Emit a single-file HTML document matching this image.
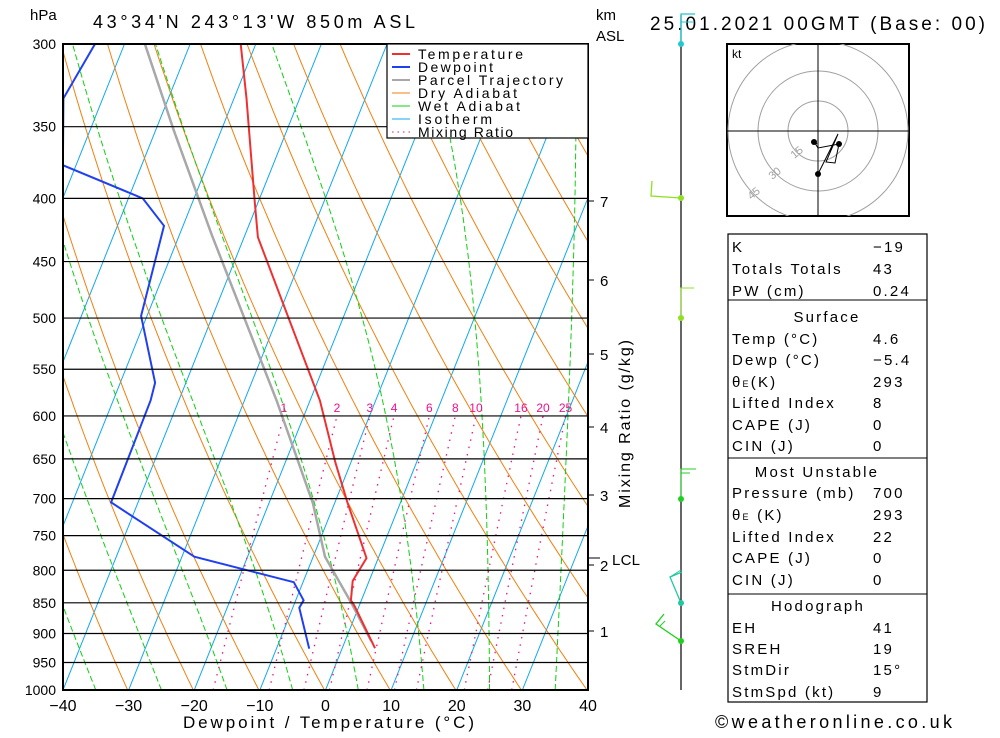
<!DOCTYPE html>
<html><head><meta charset="utf-8"><style>
body{margin:0;background:#fff;width:1000px;height:733px;overflow:hidden;font-family:"Liberation Sans","DejaVu Sans",sans-serif}
svg text{font-family:"Liberation Sans","DejaVu Sans",sans-serif}
</style></head><body>
<svg id="c" width="1000" height="733" xmlns="http://www.w3.org/2000/svg">
<defs><clipPath id="pc"><rect x="63" y="44" width="525" height="646"/></clipPath></defs>
<g id="bg" clip-path="url(#pc)"></g>
<g id="prof" clip-path="url(#pc)"></g>
<g id="ax"></g>
</svg>
<script>
const pLevels=[300,350,400,450,500,550,600,650,700,750,800,850,900,950,1000];
const tTicks=[-40,-30,-20,-10,0,10,20,30,40];
const mixRatios=[1,2,3,4,6,8,10,16,20,25];
const kmTicks=[1,2,3,4,5,6,7];
const kmY=[631,565,495,427,354,280,201];
const tempP=[300,332,352,404,430,583,654,705,782,816,846,855,925];
const tempT=[-52.3,-48.1,-45.8,-40.4,-37.9,-18.5,-12.4,-8.1,-1.8,-2.5,-1.6,-0.7,5.0];
const dewP=[300,332,376,400,421,498,564,583,705,780,818,846,858,926];
const dewT=[-74.5,-76,-72,-57.8,-52.9,-50.9,-44.7,-44.3,-44.1,-28.1,-11.4,-8.8,-9,-5.0];
const parP=[300,352,428,583,706,780,852,913];
const parT=[-66.9,-57.3,-45.1,-25.1,-13.3,-8.2,-1.2,4.0];

const X0=63,X1=588,Y0=44,Y1=690,SK=0.4,PX=(X1-X0)/80;
const L=Math.log(1000/300);
function yP(p){return Y0+Math.log(p/300)/L*(Y1-Y0);}
function xT(t,p){return X0+(t+40)*PX+SK*(Y1-yP(p));}
const NS="http://www.w3.org/2000/svg";
function mk(tag,at,parent){const e=document.createElementNS(NS,tag);for(const k in at)e.setAttribute(k,at[k]);parent.appendChild(e);return e;}
const bg=document.getElementById('bg'),prof=document.getElementById('prof'),ax=document.getElementById('ax');
function pts(arr){return arr.map(a=>a[0].toFixed(1)+','+a[1].toFixed(1)).join(' ');}

for(let t=-120;t<=40;t+=10){
 const e=mk('line',{x1:xT(t,1000),y1:Y1,x2:xT(t,300),y2:Y0,stroke:'#10a8f0','stroke-width':1},bg);
 
 
}
for(let th=203;th<=483;th+=10){
 const a=[];for(let p=1000;p>=300;p-=10){a.push([xT(th*Math.pow(p/1000,0.286)-273.15,p),yP(p)]);}
 const e=mk('polyline',{points:pts(a),fill:'none',stroke:'#f08010','stroke-width':1},bg);
 
 
}
function es(t){return 6.112*Math.exp(17.67*t/(t+243.5));}
for(let t0=-45;t0<=40;t0+=10){
 let T=t0+273.15;const a=[];
 for(let p=1000;p>=300;p-=5){
  a.push([xT(T-273.15,p),yP(p)]);
  const rs=0.622*es(T-273.15)/(p-es(T-273.15));
  const g=(287*T+2.5e6*rs)/(1004+2.5e6*2.5e6*rs*0.622/(287*T*T))/p;
  T-=g*5;
 }
 const e=mk('polyline',{points:pts(a),fill:'none',stroke:'#10d010','stroke-width':1,'stroke-dasharray':'6,3'},bg);
 
 
}
function tdw(w,p){const e=w*p/(622+w);const l=Math.log(e/6.112);return 243.5*l/(17.67-l);}
mixRatios.forEach(w=>{
 const a=[];for(let p=1000;p>=600;p-=10)a.push([xT(tdw(w,p),p),yP(p)]);
 const e=mk('polyline',{points:pts(a),fill:'none',stroke:'#f0108c','stroke-width':1.3,'stroke-dasharray':'1.5,6'},bg);
 
 
 const tx=mk('text',{x:xT(tdw(w,600),600),y:yP(600)-4,'font-size':12,fill:'#f0108c','text-anchor':'middle'},ax);
 tx.textContent=w;
 
 
});
pLevels.forEach(p=>{
 const e=mk('line',{x1:X0,x2:X1,y1:yP(p),y2:yP(p),stroke:'#000','stroke-width':1.2},ax);
 
 
 const t=mk('text',{x:56,y:yP(p)+5,'font-size':14,'text-anchor':'end',fill:'#000'},ax);
 t.textContent=p;
 
 
});
tTicks.forEach(t=>{
 const x=X0+(t+40)*PX;
 const e=mk('text',{x:x,y:711,'font-size':16,'text-anchor':'middle',fill:'#000'},ax);
 e.textContent=t<0?'\u2212'+(-t):t;
 
 
});
kmTicks.forEach((k,i)=>{
 mk('line',{x1:X1,x2:X1+6,y1:kmY[i],y2:kmY[i],stroke:'#000'},ax);
 const e=mk('text',{x:600,y:kmY[i]+6,'font-size':15,fill:'#000'},ax);
 e.textContent=k;
 
 
});
function prLine(P,T,col,w,name){
 const a=P.map((p,i)=>[xT(T[i],p),yP(p)]);
 const e=mk('polyline',{points:pts(a),fill:'none',stroke:col,'stroke-width':w},prof);
 
 
}
prLine(parP,parT,'#a8a8a8',2.5,'parcel-trajectory-line');
prLine(tempP,tempT,'#f03030',2,'temperature-line');
prLine(dewP,dewT,'#2040f0',2,'dewpoint-line');
const fr=mk('rect',{x:X0,y:Y0,width:X1-X0,height:Y1-Y0,fill:'none',stroke:'#000','stroke-width':2},ax);


</script>
<svg style="position:absolute;left:0;top:0" width="1000" height="733" xmlns="http://www.w3.org/2000/svg">
<g font-size="14">
<rect x="387" y="44" width="201" height="94" fill="#fff" stroke="#000" stroke-width="1.2"/>
<line x1="392" x2="410" y1="54" y2="54" stroke="#f03030" stroke-width="2"/><text x="418" y="59" textLength="105" lengthAdjust="spacing">Temperature</text>
<line x1="392" x2="410" y1="67" y2="67" stroke="#2040f0" stroke-width="2"/><text x="418" y="72" textLength="75" lengthAdjust="spacing">Dewpoint</text>
<line x1="392" x2="410" y1="80" y2="80" stroke="#a8a8a8" stroke-width="2"/><text x="418" y="85" textLength="145" lengthAdjust="spacing">Parcel Trajectory</text>
<line x1="392" x2="410" y1="93" y2="93" stroke="#f08010"/><text x="418" y="98" textLength="99" lengthAdjust="spacing">Dry Adiabat</text>
<line x1="392" x2="410" y1="106" y2="106" stroke="#10d010"/><text x="418" y="111" textLength="102" lengthAdjust="spacing">Wet Adiabat</text>
<line x1="392" x2="410" y1="119" y2="119" stroke="#10a8f0"/><text x="418" y="124" textLength="74" lengthAdjust="spacing">Isotherm</text>
<line x1="392" x2="410" y1="132" y2="132" stroke="#f0108c" stroke-dasharray="1.5,4"/><text x="418" y="137" textLength="95" lengthAdjust="spacing">Mixing Ratio</text>
</g>
<text x="30" y="20" font-size="15">hPa</text>
<text x="93" y="28" font-size="18" textLength="322" lengthAdjust="spacing">43°34'N  243°13'W  850m  ASL</text>
<text x="596" y="20" font-size="15">km</text>
<text x="596" y="41" font-size="15">ASL</text>
<text x="650" y="30" font-size="19" textLength="335" lengthAdjust="spacing">25.01.2021  00GMT  (Base: 00)</text>
<text x="612" y="565" font-size="15" textLength="28" lengthAdjust="spacing">LCL</text>
<line x1="588" x2="600" y1="558" y2="558" stroke="#000"/>
<text x="183" y="728" font-size="17" textLength="291" lengthAdjust="spacing">Dewpoint / Temperature (°C)</text>
<text transform="translate(630,508) rotate(-90)" font-size="16" textLength="168" lengthAdjust="spacing">Mixing Ratio (g/kg)</text>
<text x="715" y="728" font-size="18" textLength="237" lengthAdjust="spacing">©weatheronline.co.uk</text>
<g>
<line x1="681" x2="681" y1="15" y2="690" stroke="#000" stroke-width="1.2"/>
<polyline points="681,44 681,14 695,14" fill="none" stroke="#20c8d0" stroke-width="1.3"/>
<line x1="681" x2="694" y1="22" y2="22" stroke="#20c8d0"/>
<circle cx="681" cy="44" r="3" fill="#20c8d0"/>
<polyline points="681,198 651,196 652,181" fill="none" stroke="#90e020" stroke-width="1.3"/>
<circle cx="681" cy="198" r="3" fill="#90e020"/>
<polyline points="681,318 681,288 694,288" fill="none" stroke="#90e020"/>
<circle cx="681" cy="318" r="3" fill="#90e020"/>
<polyline points="681,499 681,469 696,469" fill="none" stroke="#20d020"/>
<line x1="681" x2="690" y1="473" y2="473" stroke="#20d020"/>
<circle cx="681" cy="499" r="3" fill="#20d020"/>
<polyline points="681,603 670,577 682,572" fill="none" stroke="#20c8a0" stroke-width="1.3"/>
<line x1="670" x2="681" y1="577" y2="570" stroke="#20c8a0"/>
<circle cx="681" cy="603" r="3" fill="#20c8a0"/>
<polyline points="681,641 656,624 664,614" fill="none" stroke="#20d020" stroke-width="1.3"/>
<line x1="660" x2="665" y1="626" y2="621" stroke="#20d020"/>
<circle cx="681" cy="641" r="3" fill="#20d020"/>
</g>
<g>
<clipPath id="hc"><rect x="727" y="44" width="182" height="172"/></clipPath>
<rect x="727" y="44" width="182" height="172" fill="#fff" stroke="#000" stroke-width="2"/>
<g clip-path="url(#hc)">
<circle cx="818" cy="131" r="30" fill="none" stroke="#a0a0a0"/>
<circle cx="818" cy="131" r="60" fill="none" stroke="#a0a0a0"/>
<circle cx="818" cy="131" r="90" fill="none" stroke="#a0a0a0"/>
</g>
<line x1="727" x2="909" y1="131" y2="131" stroke="#000"/>
<line x1="818" x2="818" y1="44" y2="216" stroke="#000"/>
<text x="732" y="58" font-size="12">kt</text>
<text x="790" y="157" font-size="11" fill="#a0a0a0" transform="rotate(-40 795 152)">15</text>
<text x="768" y="178" font-size="11" fill="#a0a0a0" transform="rotate(-40 773 173)">30</text>
<text x="747" y="198" font-size="11" fill="#a0a0a0" transform="rotate(-40 752 193)">45</text>
<polyline points="818,174 838,134 826,162 835,163 839,144 818,148 813,140 817,144" fill="none" stroke="#000"/>
<circle cx="818" cy="174" r="3"/><circle cx="839" cy="144" r="3"/><circle cx="814" cy="142" r="3"/>
</g>
<g font-size="15" letter-spacing="2.2">
<rect x="728" y="234" width="199" height="468" fill="none" stroke="#000" stroke-width="1.2"/>
<line x1="728" x2="927" y1="300" y2="300" stroke="#000"/>
<line x1="728" x2="927" y1="458" y2="458" stroke="#000"/>
<line x1="728" x2="927" y1="594" y2="594" stroke="#000"/>
<text x="732" y="252">K</text><text x="873" y="252">−19</text>
<text x="732" y="274">Totals Totals</text><text x="873" y="274">43</text>
<text x="732" y="296">PW (cm)</text><text x="873" y="296">0.24</text>
<text x="827" y="322" text-anchor="middle">Surface</text>
<text x="732" y="344">Temp (°C)</text><text x="873" y="344">4.6</text>
<text x="732" y="365">Dewp (°C)</text><text x="873" y="365">−5.4</text>
<text x="732" y="387">θ<tspan font-size="9">E</tspan>(K)</text><text x="873" y="387">293</text>
<text x="732" y="408">Lifted Index</text><text x="873" y="408">8</text>
<text x="732" y="430">CAPE (J)</text><text x="873" y="430">0</text>
<text x="732" y="451">CIN (J)</text><text x="873" y="451">0</text>
<text x="817" y="477" text-anchor="middle">Most Unstable</text>
<text x="732" y="498">Pressure (mb)</text><text x="873" y="498">700</text>
<text x="732" y="520">θ<tspan font-size="9">E</tspan> (K)</text><text x="873" y="520">293</text>
<text x="732" y="542">Lifted Index</text><text x="873" y="542">22</text>
<text x="732" y="563">CAPE (J)</text><text x="873" y="563">0</text>
<text x="732" y="585">CIN (J)</text><text x="873" y="585">0</text>
<text x="818" y="611" text-anchor="middle">Hodograph</text>
<text x="732" y="633">EH</text><text x="873" y="633">41</text>
<text x="732" y="654">SREH</text><text x="873" y="654">19</text>
<text x="732" y="675">StmDir</text><text x="873" y="675">15°</text>
<text x="732" y="697">StmSpd (kt)</text><text x="873" y="697">9</text>
</g>
</svg>
</body></html>
